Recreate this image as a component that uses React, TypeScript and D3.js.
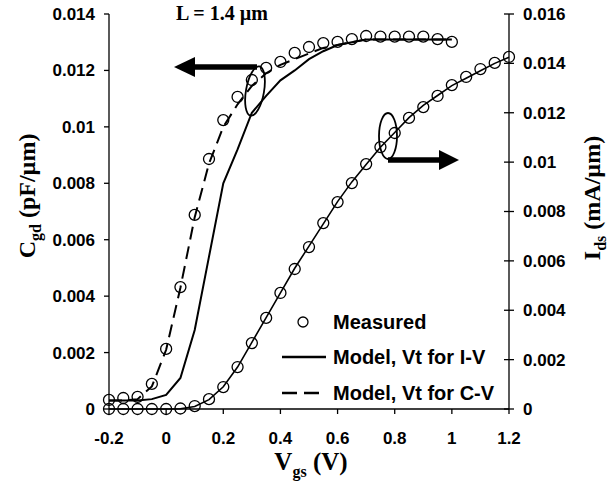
import React from "react";
import * as d3 from "d3";

// Vgs grid (V)
const vgsC = [-0.2,-0.15,-0.1,-0.05,0,0.05,0.1,0.15,0.2,0.25,0.3,0.35,0.4,0.45,0.5,0.55,0.6,0.65,0.7,0.75,0.8,0.85,0.9,0.95,1.0];
const vgsI = [-0.2,-0.15,-0.1,-0.05,0,0.05,0.1,0.15,0.2,0.25,0.3,0.35,0.4,0.45,0.5,0.55,0.6,0.65,0.7,0.75,0.8,0.85,0.9,0.95,1.0,1.05,1.1,1.15,1.2];

// Cgd (pF/um)
const cgdMeasured = [0.00032,0.00039,0.00043,0.00089,0.00213,0.00432,0.00688,0.00886,0.01024,0.01106,0.01166,0.01209,0.0123,0.01262,0.01283,0.01297,0.01301,0.01311,0.01322,0.0132,0.0132,0.0132,0.0132,0.01311,0.01301];
const cgdModelIV = [0.0003,0.0003,0.0003,0.00035,0.0005,0.0011,0.0028,0.0054,0.008,0.0092,0.0105,0.0111,0.01165,0.012,0.0124,0.01268,0.0129,0.013,0.0131,0.0131,0.0131,0.0131,0.0131,0.0131,0.0131];
const cgdModelCV = [0.0003,0.0003,0.00035,0.0008,0.0021,0.0043,0.0068,0.0087,0.01,0.0108,0.01145,0.0119,0.0122,0.0124,0.0126,0.0128,0.0129,0.013,0.0131,0.0131,0.0131,0.0131,0.0131,0.0131,0.0131];

// Ids (mA/um)
const idsMeasured = [0,0,0,0,0,0.00002,0.00012,0.0004,0.00089,0.0017,0.00267,0.00369,0.0047,0.00567,0.00656,0.00753,0.00838,0.00915,0.00992,0.01061,0.01118,0.01179,0.01223,0.01268,0.01312,0.01345,0.01377,0.01402,0.01426];
const idsModel = [0,0,0,0,0,0.00001,0.0001,0.00038,0.0009,0.0017,0.0027,0.0037,0.0047,0.0057,0.0066,0.0075,0.0084,0.0092,0.0099,0.0106,0.0112,0.0118,0.0123,0.0127,0.0131,0.0134,0.0137,0.014,0.01425];

const xTicks = [-0.2,0,0.2,0.4,0.6,0.8,1,1.2];
const yLTicks = [0,0.002,0.004,0.006,0.008,0.01,0.012,0.014];
const yRTicks = [0,0.002,0.004,0.006,0.008,0.01,0.012,0.014,0.016];

const legendItems = ["Measured", "Model, Vt for I-V", "Model, Vt for C-V"];

const SANS = "'Liberation Sans', Arial, sans-serif";
const SERIF = "'Liberation Serif', 'Times New Roman', serif";

export default function App() {
  const W = 608, H = 487;
  const x0 = 109, x1 = 509, yTop = 14, yBot = 409;
  const x = d3.scaleLinear().domain([-0.2, 1.2]).range([x0, x1]);
  const yL = d3.scaleLinear().domain([0, 0.014]).range([yBot, yTop]);
  const yR = d3.scaleLinear().domain([0, 0.016]).range([yBot, yTop]);

  const lineL = d3.line<[number, number]>().x(d => x(d[0])).y(d => yL(d[1]));
  const lineR = d3.line<[number, number]>().x(d => x(d[0])).y(d => yR(d[1]));
  const zip = (a: number[], b: number[]) => a.map((v, i) => [v, b[i]] as [number, number]);

  const fmt = (v: number) => String(+v.toFixed(3));

  return (
    <svg width={W} height={H} style={{ position: "absolute", left: 0, top: 0, background: "#fff" }}>
      <rect width={W} height={H} fill="#fff" />
      {/* axes */}
      <g stroke="#000" strokeWidth={1.3} fill="none">
        <line x1={x0} y1={yTop} x2={x0} y2={yBot} />
        <line x1={x1} y1={yTop} x2={x1} y2={yBot} />
        <line x1={x0} y1={yBot} x2={x1} y2={yBot} />
        {xTicks.map(t => <line key={"xt" + t} x1={x(t)} x2={x(t)} y1={yBot} y2={yBot + 5} />)}
        {yLTicks.map(t => <line key={"yl" + t} x1={x0 - 5} x2={x0} y1={yL(t)} y2={yL(t)} />)}
        {yRTicks.map(t => <line key={"yr" + t} x1={x1 - 5} x2={x1 + 5} y1={yR(t)} y2={yR(t)} />)}
      </g>
      <g fontFamily={SANS} fontWeight="bold" fontSize={17} fill="#000">
        {xTicks.map(t => (
          <text key={"xl" + t} x={x(t)} y={444} textAnchor="middle">{fmt(t)}</text>
        ))}
        {yLTicks.map(t => (
          <text key={"yll" + t} x={95} y={yL(t)} dy="0.35em" textAnchor="end">{fmt(t)}</text>
        ))}
        {yRTicks.map(t => (
          <text key={"yrl" + t} x={523} y={yR(t)} dy="0.35em" textAnchor="start">{fmt(t)}</text>
        ))}
      </g>

      {/* axis titles */}
      <text x={311} y={470} textAnchor="middle" fontFamily={SERIF} fontWeight="bold" fontSize={25}>
        V<tspan fontSize={16} dy={7}>gs</tspan><tspan dy={-7}> (V)</tspan>
      </text>
      <text transform="translate(35,196) rotate(-90)" textAnchor="middle" fontFamily={SERIF} fontWeight="bold" fontSize={24}>
        C<tspan fontSize={16} dy={6}>gd</tspan><tspan dy={-6}> (pF/µm)</tspan>
      </text>
      <text transform="translate(600,198) rotate(-90)" textAnchor="middle" fontFamily={SERIF} fontWeight="bold" fontSize={24}>
        I<tspan fontSize={16} dy={6}>ds</tspan><tspan dy={-6}> (mA/µm)</tspan>
      </text>
      <text x={176} y={20} fontFamily={SERIF} fontWeight="bold" fontSize={20}>L = 1.4 µm</text>

      {/* model lines */}
      <g fill="none" stroke="#000" strokeWidth={2}>
        <path d={lineL(zip(vgsC, cgdModelIV)) || ""} />
        <path d={lineL(zip(vgsC, cgdModelCV)) || ""} strokeDasharray="13,7" />
        <path d={lineR(zip(vgsI, idsModel)) || ""} strokeWidth={1.6} />
      </g>
      {/* measured */}
      <g fill="none" stroke="#000" strokeWidth={1.3}>
        {vgsC.map((v, i) => <circle key={"mc" + i} cx={x(v)} cy={yL(cgdMeasured[i])} r={5.5} />)}
        {vgsI.map((v, i) => <circle key={"mi" + i} cx={x(v)} cy={yR(idsMeasured[i])} r={5.5} />)}
      </g>

      {/* annotations */}
      <g fill="none" stroke="#000" strokeWidth={1.8}>
        <ellipse cx={255} cy={91} rx={9} ry={25} transform="rotate(10,255,91)" />
        <ellipse cx={388} cy={136} rx={9} ry={23} />
      </g>
      <g stroke="#000" strokeWidth={5.5}>
        <line x1={257} y1={67} x2={192} y2={67} />
        <line x1={388} y1={160} x2={442} y2={160} />
      </g>
      <g fill="#000">
        <polygon points="174,67 195,57 195,77" />
        <polygon points="459,160 439,150 439,170" />
      </g>

      {/* legend */}
      <g>
        <circle cx={303} cy={322} r={5} fill="none" stroke="#000" strokeWidth={1.3} />
        <line x1={282} x2={326} y1={357} y2={357} stroke="#000" strokeWidth={2.6} />
        <line x1={282} x2={326} y1={393} y2={393} stroke="#000" strokeWidth={2.6} strokeDasharray="15,7" />
        {legendItems.map((s, i) => (
          <text key={s} x={333} y={[329, 364, 400][i]} fontFamily={SANS} fontWeight="bold" fontSize={20}>{s}</text>
        ))}
      </g>
    </svg>
  );
}
